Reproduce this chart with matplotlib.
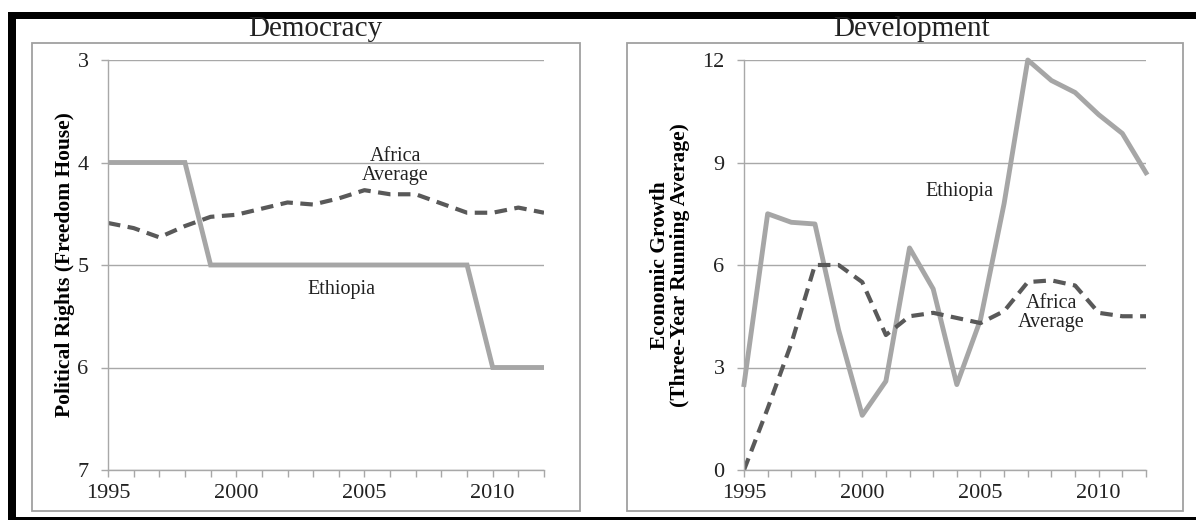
import numpy as np
import matplotlib
matplotlib.use("Agg")
import matplotlib.pyplot as plt
from matplotlib.patches import Rectangle

plt.rcParams["font.family"] = ["Liberation Serif", "DejaVu Serif"]

years = list(range(1995, 2013))

# Democracy: political rights (Freedom House), lower = more free
eth_rights = [4, 4, 4, 4, 5, 5, 5, 5, 5, 5, 5, 5, 5, 5, 5, 6, 6, 6]
afr_rights = [4.59, 4.64, 4.73, 4.62, 4.53, 4.51, 4.45, 4.39, 4.41, 4.35,
              4.27, 4.31, 4.31, 4.40, 4.49, 4.49, 4.44, 4.49]

# Development: economic growth, three-year running average
eth_growth = [2.5, 7.5, 7.25, 7.2, 4.1, 1.6, 2.6, 6.5, 5.3, 2.5,
              4.4, 7.8, 12.0, 11.4, 11.05, 10.4, 9.85, 8.7]
afr_growth = [0.0, 1.8, 3.7, 6.0, 6.0, 5.5, 3.95, 4.5, 4.6, 4.45,
              4.3, 4.65, 5.5, 5.55, 5.4, 4.6, 4.5, 4.5]

W, H = 1196, 520
fig = plt.figure(figsize=(W / 100, H / 100), dpi=100)


def px(x0, y0, x1, y1):
    # pixel box (top-left origin) -> figure fraction rect
    return [x0 / W, 1 - y1 / H, (x1 - x0) / W, (y1 - y0) / H]


# black frame bars
for box in [(8, 12, W, 19), (8, 12, 16, H), (8, 517, W, H)]:
    r = px(*box)
    fig.patches.append(Rectangle((r[0], r[1]), r[2], r[3], transform=fig.transFigure,
                                 facecolor="black", edgecolor="none", zorder=0))
# gray panel boxes
for box in [(32, 43, 580, 511), (627, 43, 1183, 511)]:
    r = px(*box)
    fig.patches.append(Rectangle((r[0], r[1]), r[2], r[3], transform=fig.transFigure,
                                 facecolor="none", edgecolor="#a0a0a0", lw=1.3, zorder=0))

grey = "#a6a6a6"
dark = "#595959"
gridc = "#a8a8a8"
txt = "#222222"


def style(ax, yticks):
    ax.set_xlim(1995, 2012)
    ax.set_xticks(years)
    ax.set_xticklabels([str(y) if y % 5 == 0 else "" for y in years])
    ax.set_yticks(yticks)
    ax.grid(axis="y", color=gridc, lw=1.0)
    ax.set_axisbelow(True)
    for s in ["top", "right"]:
        ax.spines[s].set_visible(False)
    for s in ["left", "bottom"]:
        ax.spines[s].set_color(gridc)
        ax.spines[s].set_linewidth(1.0)
    ax.tick_params(axis="both", direction="out", length=5, width=1.0, color=gridc,
                   labelsize=16, labelcolor=txt)
    ax.tick_params(axis="x", pad=5)
    ax.tick_params(axis="y", pad=9)


# left panel
ax1 = fig.add_axes(px(108, 60, 544, 470))
ax1.plot(years, eth_rights, color=grey, lw=3.5, solid_joinstyle="miter")
ax1.plot(years, afr_rights, color=dark, lw=3.0, dashes=(3, 1.8))
ax1.set_ylim(7, 3)
style(ax1, [3, 4, 5, 6, 7])
ax1.set_ylabel("Political Rights (Freedom House)", fontsize=15.5, fontweight="bold")
ax1.yaxis.label.set_va("center")
ax1.yaxis.set_label_coords((65 - 108) / 436, 0.5)
ax1.text(2006.2, 4.03, "Africa\nAverage", ha="center", va="center", fontsize=14.5,
         linespacing=1.0, color=txt)
ax1.text(2004.1, 5.24, "Ethiopia", ha="center", va="center", fontsize=14.5, color=txt)
fig.text(315 / W, 1 - 36 / H, "Democracy", ha="center", va="baseline", fontsize=21, color=txt)

# right panel
ax2 = fig.add_axes(px(744, 60, 1146, 470))
ax2.plot(years, eth_growth, color=grey, lw=3.5, clip_on=False)
ax2.plot(years, afr_growth, color=dark, lw=3.0, dashes=(3, 1.8))
ax2.set_ylim(0, 12)
style(ax2, [0, 3, 6, 9, 12])
ax2.set_ylabel("Economic Growth\n(Three-Year Running Average)", fontsize=15.5,
               fontweight="bold", linespacing=1.0)
ax2.yaxis.label.set_va("center")
ax2.yaxis.set_label_coords((670 - 744) / 402, 0.5)
ax2.text(2004.1, 8.15, "Ethiopia", ha="center", va="center", fontsize=14.5, color=txt)
ax2.text(2008.0, 4.6, "Africa\nAverage", ha="center", va="center", fontsize=14.5,
         linespacing=1.0, color=txt)
fig.text(912 / W, 1 - 36 / H, "Development", ha="center", va="baseline", fontsize=21, color=txt)

fig.savefig("out.png", dpi=100)
